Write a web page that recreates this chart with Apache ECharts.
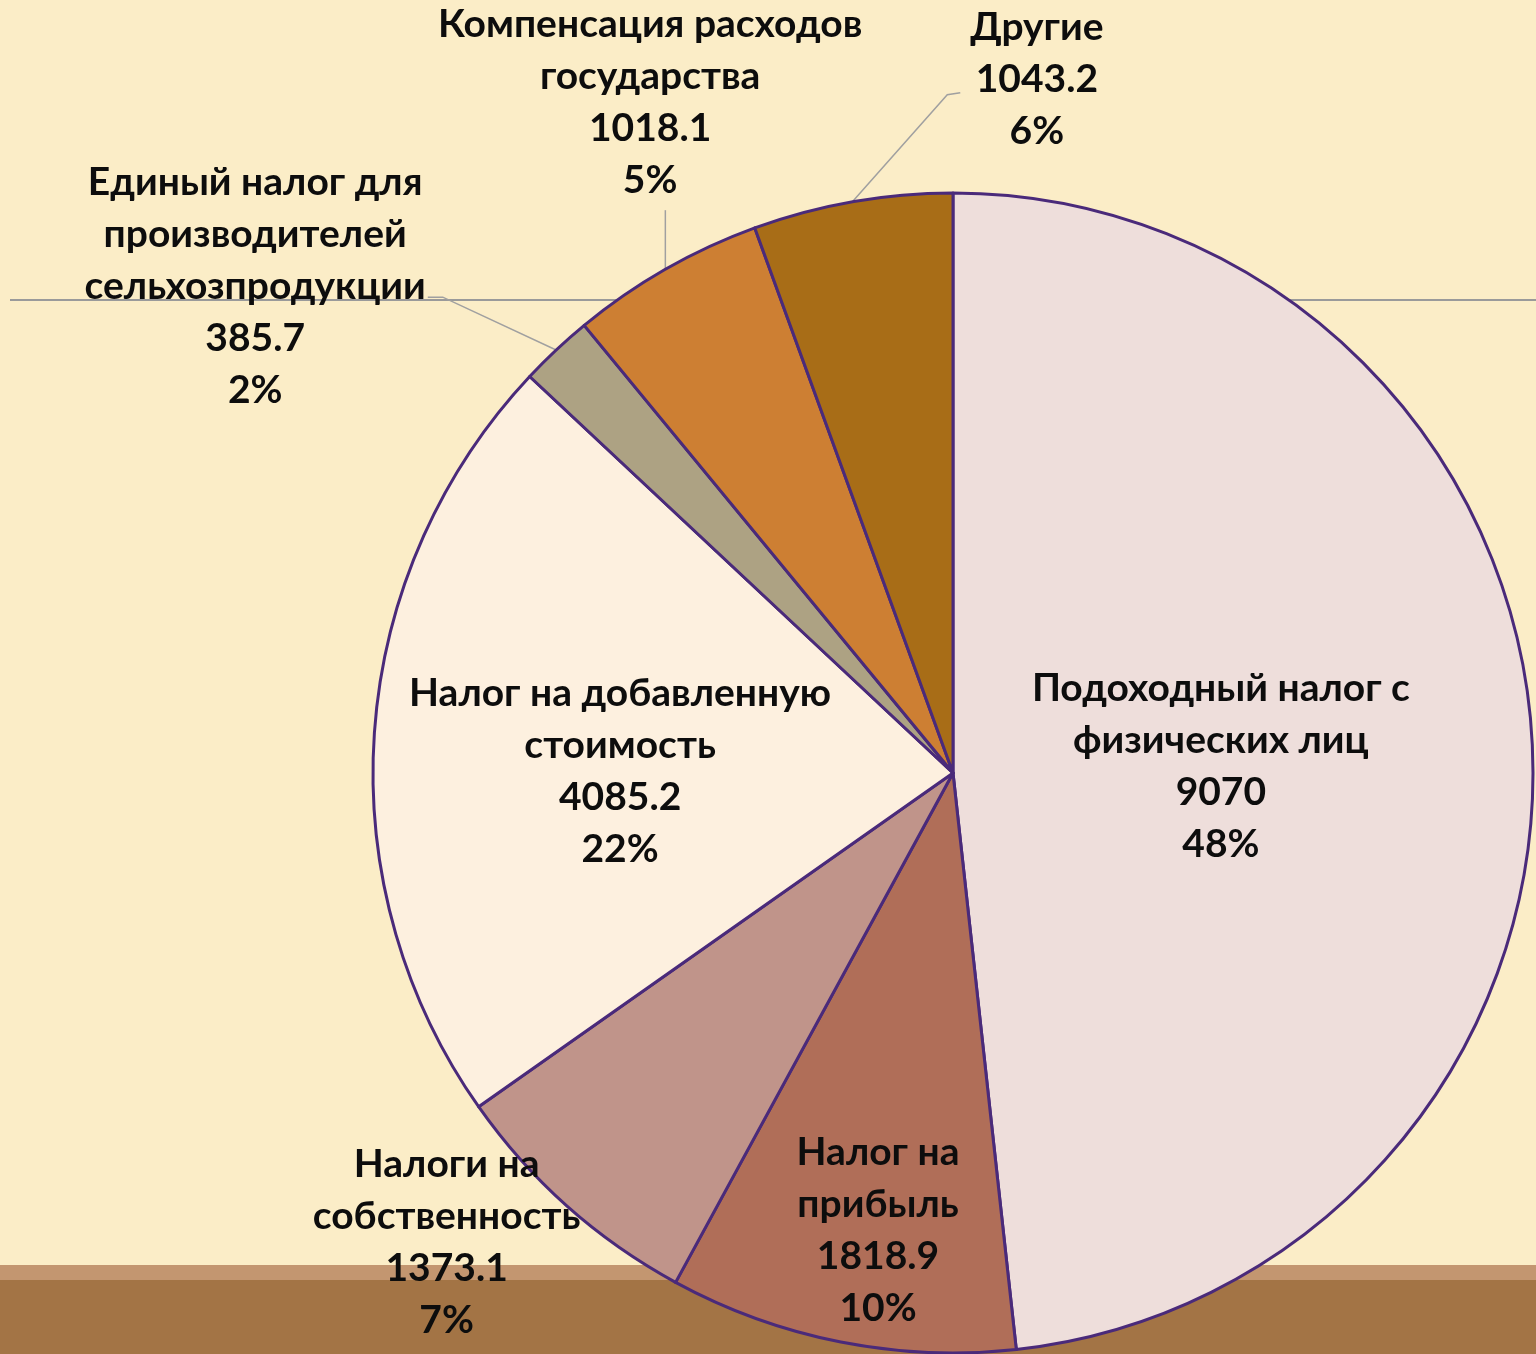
<!DOCTYPE html>
<html><head><meta charset="utf-8">
<script src="https://cdn.jsdelivr.net/npm/echarts@6/dist/echarts.min.js"></script>
<style>html,body{margin:0;padding:0;background:#FBEDC7}#c{width:1536px;height:1354px}</style>
</head><body><div id="c"></div>
<script>
// ---- data ----
const categories = [
  'Подоходный налог с\nфизических лиц',
  'Налог на\nприбыль',
  'Налоги на\nсобственность',
  'Налог на добавленную\nстоимость',
  'Единый налог для\nпроизводителей\nсельхозпродукции',
  'Компенсация расходов\nгосударства',
  'Другие'
];
const values = [9070, 1818.9, 1373.1, 4085.2, 385.7, 1018.1, 1043.2];

// ---- styles / layout ----
const colors = ['#EEDEDB', '#B06E58', '#C0948A', '#FDF0DF', '#ADA283', '#CD7F33', '#A86D17'];
const CX = 953, CY = 773, R = 580;
// label centre: [angle clockwise from 12 o'clock, radius factor]
const labelSpots = [[88.5, 0.462], [189.3, 0.80], [227.2, 1.19], [270.3, 0.574], [304.9, 1.467], [335.7, 1.269], [6.9, 1.204]];
const lineAttach = [null, null, null, null, 'right', 'bottom', 'left'];

function polar(angDeg, r) {
  const a = angDeg * Math.PI / 180;
  return [CX + r * Math.sin(a), CY - r * Math.cos(a)];
}
const total = values.reduce((a, b) => a + b, 0);
const midAngles = [];
let acc = 0;
values.forEach(v => { midAngles.push((acc + v / 2) / total * 360); acc += v; });

const chart = echarts.init(document.getElementById('c'), null, { renderer: 'canvas' });
const option = {
  backgroundColor: '#FBEDC7',
  animation: false,
  graphic: [
    { type: 'rect', silent: true, z: 0, shape: { x: 0, y: 1265, width: 1536, height: 89 }, style: { fill: '#C39670' } },
    { type: 'rect', silent: true, z: 0, shape: { x: 0, y: 1280, width: 1536, height: 74 }, style: { fill: '#A37445' } },
    { type: 'line', silent: true, z: 0, shape: { x1: 10, y1: 300, x2: 1536, y2: 300 }, style: { stroke: '#9A9A9A', lineWidth: 2 } }
  ],
  series: [{
    type: 'pie',
    center: [CX, CY],
    radius: R,
    startAngle: 90,
    clockwise: true,
    avoidLabelOverlap: false,
    percentPrecision: 0,
    itemStyle: { borderColor: '#4A2A7A', borderWidth: 3 },
    label: {
      formatter: '{b}\n{c}\n{d}%',
      fontSize: 39,
      fontWeight: 'bold',
      lineHeight: 52,
      color: '#0D0D0D',
      fontFamily: 'Lato, "Open Sans", sans-serif',
      align: 'center'
    },
    labelLine: { show: true, lineStyle: { color: '#A0A0A0', width: 1.5 } },
    emphasis: { disabled: true },
    data: values.map((v, i) => ({
      name: categories[i],
      value: v,
      itemStyle: { color: colors[i] },
      label: { position: lineAttach[i] ? 'outside' : 'inside' },
      labelLine: { show: !!lineAttach[i] }
    })),
    labelLayout: function (p) {
      const i = p.dataIndex;
      const c = polar(labelSpots[i][0], labelSpots[i][1] * R);
      const w = p.labelRect.width, h = p.labelRect.height;
      const res = { x: c[0], y: c[1], align: 'center', verticalAlign: 'middle' };
      const m = lineAttach[i];
      if (m) {
        const p0 = polar(midAngles[i], R);
        let p1, p2;
        if (m === 'right') { p2 = [c[0] + w / 2 + 2, c[1] + 11]; p1 = [p2[0] + 15, p2[1]]; }
        else if (m === 'bottom') { p2 = [p0[0], c[1] + h / 2 + 4]; p1 = [p0[0], (p0[1] + p2[1]) / 2]; }
        else { p2 = [c[0] - w / 2 - 10, c[1] + 13]; p1 = [p2[0] - 13, p2[1] + 2]; }
        res.labelLinePoints = [p0, p1, p2];
      }
      return res;
    }
  }]
};
chart.setOption(option);
</script>
</body></html>
